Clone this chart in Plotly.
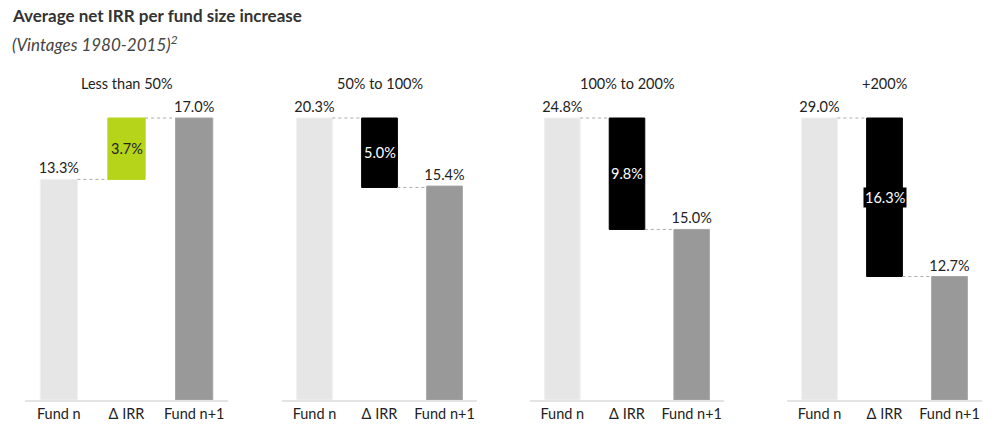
import plotly.graph_objects as go

# ---- data ----
panel_titles = ["Less than 50%", "50% to 100%", "100% to 200%", "+200%"]
categories = ["Fund n", "Δ IRR", "Fund n+1"]
fund_n = [13.3, 20.3, 24.8, 29.0]
delta_irr = [3.7, -5.0, -9.8, -16.3]
fund_n1 = [17.0, 15.4, 15.0, 12.7]

# ---- style ----
W, H = 1004, 442
OFF = 8  # page body margin
domains_px = [(25, 228), (282, 477), (530, 724), (787, 982)]
plot_top, plot_bottom = 100, 400
bar_top_px = 118
bar_w = 0.55
col_start = "#e6e6e6"
col_end = "#999999"
col_up = "#b5d41a"
col_down = "#000000"
font = "Lato, 'Open Sans', sans-serif"
fs = 14.5

pt, pb = plot_top - OFF, plot_bottom - OFF
ph = pb - pt

fig = go.Figure()
annotations = []


def py(ypx):
    return (pb - (ypx - OFF)) / ph


for i in range(4):
    xa = "x" if i == 0 else f"x{i+1}"
    ya = "y" if i == 0 else f"y{i+1}"
    start, d, end = fund_n[i], delta_irr[i], fund_n1[i]
    top = max(start, end, start + max(d, 0))
    ymax = top * (plot_bottom - plot_top) / (plot_bottom - bar_top_px)
    d_base = min(start, start + d)
    d_color = col_up if d > 0 else col_down

    fig.add_trace(go.Bar(
        x=[0, 2], y=[start, end],
        marker=dict(color=[col_start, col_end], line=dict(color=["#f0f0f0", "#a6a6a6"], width=1)),
        width=bar_w, text=[f"{start:.1f}%", f"{end:.1f}%"], textposition="outside",
        constraintext="none",
        textfont=dict(family=font, size=fs, color="#222"), cliponaxis=False,
        xaxis=xa, yaxis=ya, showlegend=False, hoverinfo="skip"))
    fig.add_trace(go.Bar(
        x=[1], y=[abs(d)], base=[d_base],
        marker=dict(color=d_color, line=dict(color=d_color, width=1)),
        width=bar_w, xaxis=xa, yaxis=ya, showlegend=False, hoverinfo="skip"))
    fig.add_trace(go.Scatter(
        x=[bar_w / 2, 1 - bar_w / 2, None, 1 + bar_w / 2, 2 - bar_w / 2],
        y=[start, start, None, start + d, start + d],
        mode="lines", line=dict(color="#aaaaaa", width=1, dash="dot"),
        xaxis=xa, yaxis=ya, showlegend=False, hoverinfo="skip"))
    annotations.append(dict(
        x=1, y=d_base + abs(d) / 2, xref=xa, yref=ya, text=f"{abs(d):.1f}%",
        showarrow=False, bgcolor=d_color, borderpad=1,
        font=dict(family=font, size=fs, color="#222" if d > 0 else "#ffffff")))

    x0, x1 = domains_px[i]
    dom = [(x0 - OFF) / W, (x1 - OFF) / W]
    fig.layout[("xaxis" if i == 0 else f"xaxis{i+1}")] = dict(
        domain=dom, anchor=ya, range=[-0.5, 2.5],
        tickmode="array", tickvals=[0, 1, 2], ticktext=categories,
        showline=True, linecolor="#e4e4e4", linewidth=2, showgrid=False,
        zeroline=False, ticks="", tickfont=dict(family=font, size=fs, color="#222"),
        fixedrange=True)
    fig.layout[("yaxis" if i == 0 else f"yaxis{i+1}")] = dict(
        domain=[0, 1], anchor=xa, range=[0, ymax], visible=False,
        showgrid=False, zeroline=False, fixedrange=True)

    annotations.append(dict(
        x=((x0 + x1) / 2 - OFF) / W, y=py(83), xref="paper", yref="paper",
        text=panel_titles[i], showarrow=False,
        font=dict(family=font, size=14.5, color="#222"),
        xanchor="center", yanchor="middle"))

annotations.append(dict(
    x=(10 - OFF) / W, y=py(16), xref="paper", yref="paper",
    text="<b>Average net IRR per fund size increase</b>", showarrow=False,
    xanchor="left", yanchor="middle", font=dict(family=font, size=17, color="#333")))
annotations.append(dict(
    x=(10 - OFF) / W, y=py(44), xref="paper", yref="paper",
    text="<i>(Vintages 1980-2015)<sup>2</sup></i>", showarrow=False,
    xanchor="left", yanchor="middle", font=dict(family=font, size=17, color="#444")))

fig.update_layout(
    width=W, height=H, margin=dict(l=0, r=0, t=pt, b=H - pb),
    paper_bgcolor="white", plot_bgcolor="white", barmode="overlay",
    annotations=annotations, font=dict(family=font))

fig.write_html("out.html")
